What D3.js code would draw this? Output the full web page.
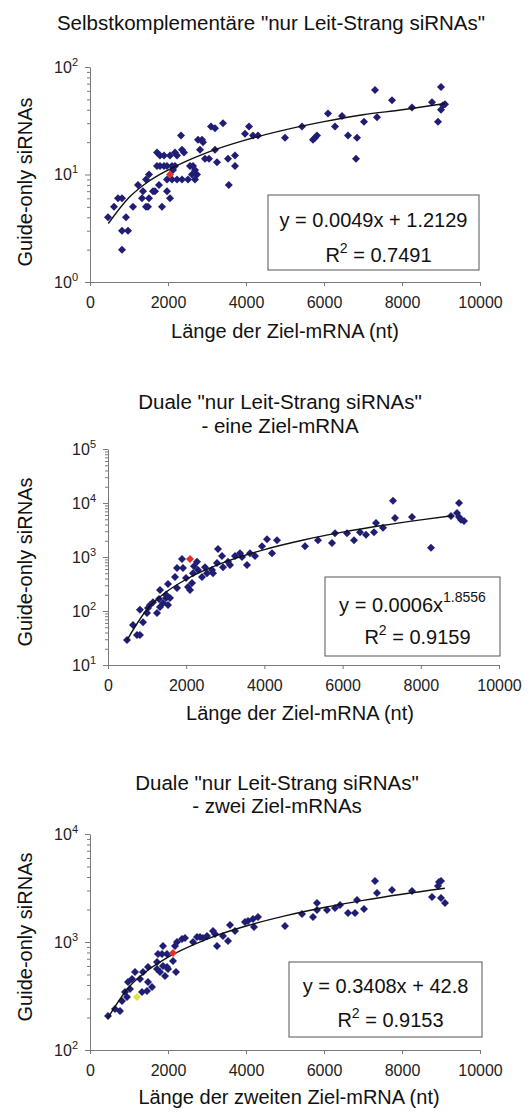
<!DOCTYPE html>
<html>
<head>
<meta charset="utf-8">
<script src="https://cdn.jsdelivr.net/npm/d3@7"></script>
<style>
  body { margin: 0; background: #fff; }
  svg text { font-family: "Liberation Sans", Arimo, Arial, sans-serif; }
</style>
</head>
<body>
<svg id="vis" width="529" height="1113"></svg>
<script>
// shared x ticks
const xTicks = [0, 2000, 4000, 6000, 8000, 10000]

// panel 1: Selbstkomplementäre
const p1Title = ['Selbstkomplementäre "nur Leit-Strang siRNAs"']
const p1XLabel = 'Länge der Ziel-mRNA (nt)'
const p1YTicks = [1, 10, 100]
const p1Length = [462, 615, 718, 820, 820, 974, 820, 923, 1103, 1231, 1359, 1333, 1487, 1436, 1513, 1615,
  1667, 1846, 1769, 1974, 2051, 3560, 1436, 1513, 1718, 1795, 1897, 1718, 1795, 1897, 1974, 2051,
  2180, 2231, 2359, 2410, 2103, 2128, 2180, 1974, 2103, 2231, 2359, 2513, 2692, 2744, 2333, 2564,
  2641, 2692, 2615, 2769, 2872, 2897, 2821, 2949, 3051, 3103, 3205, 3205, 3256, 3410, 3538, 3718,
  3718, 3974, 4077, 4179, 4308, 5000, 5436, 5718, 5820, 5769, 6103, 6282, 6462, 6615, 6846, 6820,
  7026, 7308, 7359, 7744, 8256, 8769, 9000, 8923, 9000, 9051, 9103]
const p1Count = [4, 5, 6, 6, 3, 3, 2, 4, 5, 8, 7, 6, 5, 5, 6, 7,
  7, 5, 8, 7, 6, 8, 9, 10, 16, 15, 15, 12, 12, 12, 12, 15,
  16, 15, 17, 16, 12, 11, 12, 9, 9, 9, 9, 9, 9, 10, 23, 12,
  12, 11, 10, 21, 21, 20, 17, 14, 14, 28, 27, 17, 13, 30, 14, 15,
  12, 24, 28, 23, 23, 22, 28, 21, 23, 22, 37, 28, 35, 23, 22, 14,
  31, 61, 34, 49, 42, 47, 65, 31, 40, 44, 45]
const p1Red = [2051, 10]
const p1Equation = 'y = 0.0049x + 1.2129'
const p1EquationSup = ''
const p1R2 = '0.7491'
const p1TrendLength = [470, 1000, 1500, 2000, 3000, 4000, 5000, 6000, 7000, 8000, 9100]
const p1TrendCount = [3.5, 6.1, 8.6, 11, 16, 21, 26, 31, 36, 40, 45.8]

// panel 2: Duale, eine Ziel-mRNA
const p2Title = ['Duale "nur Leit-Strang siRNAs"', '- eine Ziel-mRNA']
const p2XLabel = 'Länge der Ziel-mRNA (nt)'
const p2YTicks = [10, 100, 1000, 10000, 100000]
const p2Length = [486, 640, 742, 817, 817, 895, 997, 1023, 1151, 1253, 1330, 1407, 1483, 1535, 1586,
  1074, 1304, 1535, 1330, 1483, 1765, 1714, 1765, 1893, 1918, 1995, 2046, 2097, 2148, 2174, 2200,
  2276, 2302, 2404, 2481, 2532, 2660, 2685, 2788, 2813, 2916, 2941, 3069, 3120, 3248, 3376, 3427,
  3555, 3632, 3760, 3939, 4066, 4194, 4322, 5038, 5371, 5729, 5806, 6113, 6292, 6445, 6598, 6803,
  6854, 7033, 7289, 7340, 7775, 8261, 8772, 8926, 8977, 8977, 9028, 9105]
const p2Count = [29, 55, 36, 36, 105, 62, 92, 114, 146, 92, 119, 141, 174, 129, 174,
  129, 166, 316, 245, 200, 268, 426, 625, 918, 625, 410, 277, 245, 331, 500, 676,
  813, 575, 426, 646, 500, 575, 500, 776, 1406, 1047, 646, 813, 708, 1047, 1175, 1000,
  708, 1175, 1047, 1585, 2138, 1175, 2042, 1585, 2042, 1820, 2754, 2754, 2042, 2880, 2570, 2880,
  4266, 3467, 11000, 5248, 5500, 1480, 5750, 6500, 10000, 5500, 4900, 4650]
const p2Red = [2097, 918]
const p2Equation = 'y = 0.0006x'
const p2EquationSup = '1.8556'
const p2R2 = '0.9159'
const p2TrendLength = [486, 1000, 1500, 2000, 3000, 4000, 5000, 6000, 7000, 8000, 8800]
const p2TrendCount = [29, 108, 228, 386, 811, 1373, 2065, 2882, 3824, 4879, 5810]

// panel 3: Duale, zwei Ziel-mRNAs
const p3Title = ['Duale "nur Leit-Strang siRNAs"', '- zwei Ziel-mRNAs']
const p3XLabel = 'Länge der zweiten Ziel-mRNA (nt)'
const p3YTicks = [100, 1000, 10000]
const p3Length = [462, 641, 769, 820, 949, 897, 1026, 974, 1077, 1333, 1461, 1154, 1282, 1359, 1487,
  1487, 1590, 1718, 1795, 1872, 1923, 2000, 1718, 1974, 2205, 2128, 1744, 1846, 1974, 1872, 2180,
  2231, 2359, 2436, 2641, 2744, 2821, 2897, 3000, 3154, 3205, 3256, 3410, 3590, 3538, 3718, 3974,
  4051, 4179, 4308, 4205, 5000, 5436, 5718, 5820, 5820, 6077, 6282, 6410, 6615, 6795, 6846, 7026,
  7308, 7359, 7744, 8256, 8769, 8923, 8949, 9000, 9000, 9103]
const p3Count = [207, 240, 230, 285, 310, 344, 367, 426, 454, 344, 352, 527, 454, 527, 588,
  426, 383, 562, 527, 600, 484, 562, 653, 588, 527, 667, 774, 774, 774, 918, 918,
  1000, 1066, 1089, 1000, 1112, 1112, 1089, 1137, 1265, 1186, 918, 1137, 1437, 1021, 1265, 1531,
  1564, 1633, 1703, 1377, 1406, 1816, 1703, 2296, 1978, 1978, 2065, 2203, 1856, 1856, 2449, 2021,
  3670, 2843, 3027, 2967, 2610, 3300, 3594, 3670, 2551, 2296]
const p3Red = [2128, 791]
const p3Yellow = [1205, 310]
const p3Equation = 'y = 0.3408x + 42.8'
const p3EquationSup = ''
const p3R2 = '0.9153'
const p3TrendLength = [450, 1000, 1500, 2000, 3000, 4000, 5000, 6000, 7000, 8000, 9100]
const p3TrendCount = [196, 383, 554, 724, 1065, 1406, 1747, 2088, 2428, 2769, 3144]

const navy = '#1f1d74'
const axisColor = '#7a7a7a'
const svg = d3.select('#vis')

const panels = [
  {
    title: p1Title, titleX: 271, titleY: [30], xLabel: p1XLabel, xLabelX: 285, xLabelY: 338,
    yTicks: p1YTicks, xRange: [90, 480], yRange: [282, 67], yLabelY: 182,
    lengths: p1Length, counts: p1Count, red: p1Red, yellow: null,
    trend: [p1TrendLength, p1TrendCount],
    eq: p1Equation, eqSup: p1EquationSup, r2: p1R2,
    box: { x: 268, y: 195, w: 211, h: 75, l1: 227, l2: 262 }
  },
  {
    title: p2Title, titleX: 280, titleY: [409, 433], xLabel: p2XLabel, xLabelX: 300, xLabelY: 720,
    yTicks: p2YTicks, xRange: [108, 499], yRange: [665, 449], yLabelY: 562,
    lengths: p2Length, counts: p2Count, red: p2Red, yellow: null,
    trend: [p2TrendLength, p2TrendCount],
    eq: p2Equation, eqSup: p2EquationSup, r2: p2R2,
    box: { x: 325, y: 577, w: 175, h: 79, l1: 612, l2: 644 }
  },
  {
    title: p3Title, titleX: 277, titleY: [790, 813], xLabel: p3XLabel, xLabelX: 289, xLabelY: 1104,
    yTicks: p3YTicks, xRange: [90, 480], yRange: [1050, 834], yLabelY: 937,
    lengths: p3Length, counts: p3Count, red: p3Red, yellow: p3Yellow,
    trend: [p3TrendLength, p3TrendCount],
    eq: p3Equation, eqSup: p3EquationSup, r2: p3R2,
    box: { x: 289, y: 962, w: 193, h: 75, l1: 993, l2: 1027 }
  }
]

panels.forEach(drawPanel)

function drawPanel(p) {
  const yDomain = [p.yTicks[0], p.yTicks[p.yTicks.length - 1]]
  const x = d3.scaleLinear().domain([0, 10000]).range(p.xRange)
  const y = d3.scaleLog().domain(yDomain).range(p.yRange)
  const g = svg.append('g')

  // titles
  p.title.forEach((t, i) => {
    g.append('text')
      .attr('x', p.titleX)
      .attr('y', p.titleY[i])
      .attr('text-anchor', 'middle')
      .style('font-size', '20.5px')
      .attr('fill', '#111')
      .text(t)
  })

  // x axis
  const xAxis = d3.axisBottom(x)
    .tickValues(xTicks)
    .tickFormat(d3.format('d'))
    .tickSize(4)
    .tickSizeOuter(0)
    .tickPadding(11)
  g.append('g')
    .attr('transform', `translate(0,${p.yRange[0]})`)
    .call(xAxis)
    .call(a => {
      a.attr('font-size', null).attr('font-family', null)
      a.select('.domain').attr('stroke', axisColor)
      a.selectAll('.tick line').attr('stroke', axisColor)
      a.selectAll('.tick text').style('font-size', '16px').attr('fill', '#222')
    })

  // y axis, major and minor ticks
  const minor = []
  p.yTicks.slice(0, -1).forEach(d => {
    for (let k = 2; k < 10; k++) minor.push(d * k)
  })
  g.append('g')
    .attr('transform', `translate(${p.xRange[0]},0)`)
    .call(d3.axisLeft(y).tickValues(p.yTicks).tickSize(5).tickSizeOuter(0).tickFormat(''))
    .call(a => {
      a.select('.domain').attr('stroke', axisColor)
      a.selectAll('.tick line').attr('stroke', axisColor)
    })
  g.append('g')
    .attr('transform', `translate(${p.xRange[0]},0)`)
    .call(d3.axisLeft(y).tickValues(minor).tickSize(3).tickFormat(''))
    .call(a => {
      a.select('.domain').remove()
      a.selectAll('.tick line').attr('stroke', axisColor)
    })

  // y tick labels as powers of ten
  p.yTicks.forEach(v => {
    const t = g.append('text')
      .attr('x', p.xRange[0] - 12)
      .attr('y', y(v) + 5.5)
      .attr('text-anchor', 'end')
      .attr('fill', '#222')
      .style('font-size', '16px')
    t.append('tspan').text('10')
    t.append('tspan').attr('dy', -7).style('font-size', '11px').text(Math.round(Math.log10(v)))
  })

  // axis titles
  g.append('text')
    .attr('x', p.xLabelX)
    .attr('y', p.xLabelY)
    .attr('text-anchor', 'middle')
    .style('font-size', '20px')
    .attr('fill', '#111')
    .text(p.xLabel)
  g.append('text')
    .attr('transform', `translate(32,${p.yLabelY}) rotate(-90)`)
    .attr('text-anchor', 'middle')
    .style('font-size', '20px')
    .attr('fill', '#111')
    .text('Guide-only siRNAs')

  // points
  const diamond = d3.symbol(d3.symbolSquare, 32)
  g.selectAll('.pt')
    .data(d3.zip(p.lengths, p.counts))
    .join('path')
    .attr('class', 'pt')
    .attr('d', diamond)
    .attr('transform', d => `translate(${x(d[0])},${y(d[1])}) rotate(45)`)
    .attr('fill', navy)

  // trend line
  const line = d3.line().x(d => x(d[0])).y(d => y(d[1])).curve(d3.curveMonotoneX)
  g.append('path')
    .datum(d3.zip(p.trend[0], p.trend[1]))
    .attr('d', line)
    .attr('fill', 'none')
    .attr('stroke', '#111')
    .attr('stroke-width', 1.4)

  // highlighted points
  ;[[p.red, '#e5302a'], [p.yellow, '#dfe33c']].forEach(([pt, c]) => {
    if (!pt) return
    g.append('path')
      .attr('d', diamond)
      .attr('transform', `translate(${x(pt[0])},${y(pt[1])}) rotate(45)`)
      .attr('fill', c)
  })

  // equation box
  const b = p.box
  g.append('rect')
    .attr('x', b.x).attr('y', b.y).attr('width', b.w).attr('height', b.h)
    .attr('fill', '#fff').attr('stroke', '#555').attr('stroke-width', 1)
  const cx = b.x + b.w / 2
  const e1 = g.append('text')
    .attr('x', cx).attr('y', b.l1).attr('text-anchor', 'middle')
    .style('font-size', '20px').attr('fill', '#111')
  e1.append('tspan').text(p.eq)
  if (p.eqSup) e1.append('tspan').attr('dy', -10).style('font-size', '14px').text(p.eqSup)
  const e2 = g.append('text')
    .attr('x', cx + 5).attr('y', b.l2).attr('text-anchor', 'middle')
    .style('font-size', '20px').attr('fill', '#111')
  e2.append('tspan').text('R')
  e2.append('tspan').attr('dy', -9).style('font-size', '14px').text('2')
  e2.append('tspan').attr('dy', 9).text(' = ' + p.r2)
}
</script>
</body>
</html>
